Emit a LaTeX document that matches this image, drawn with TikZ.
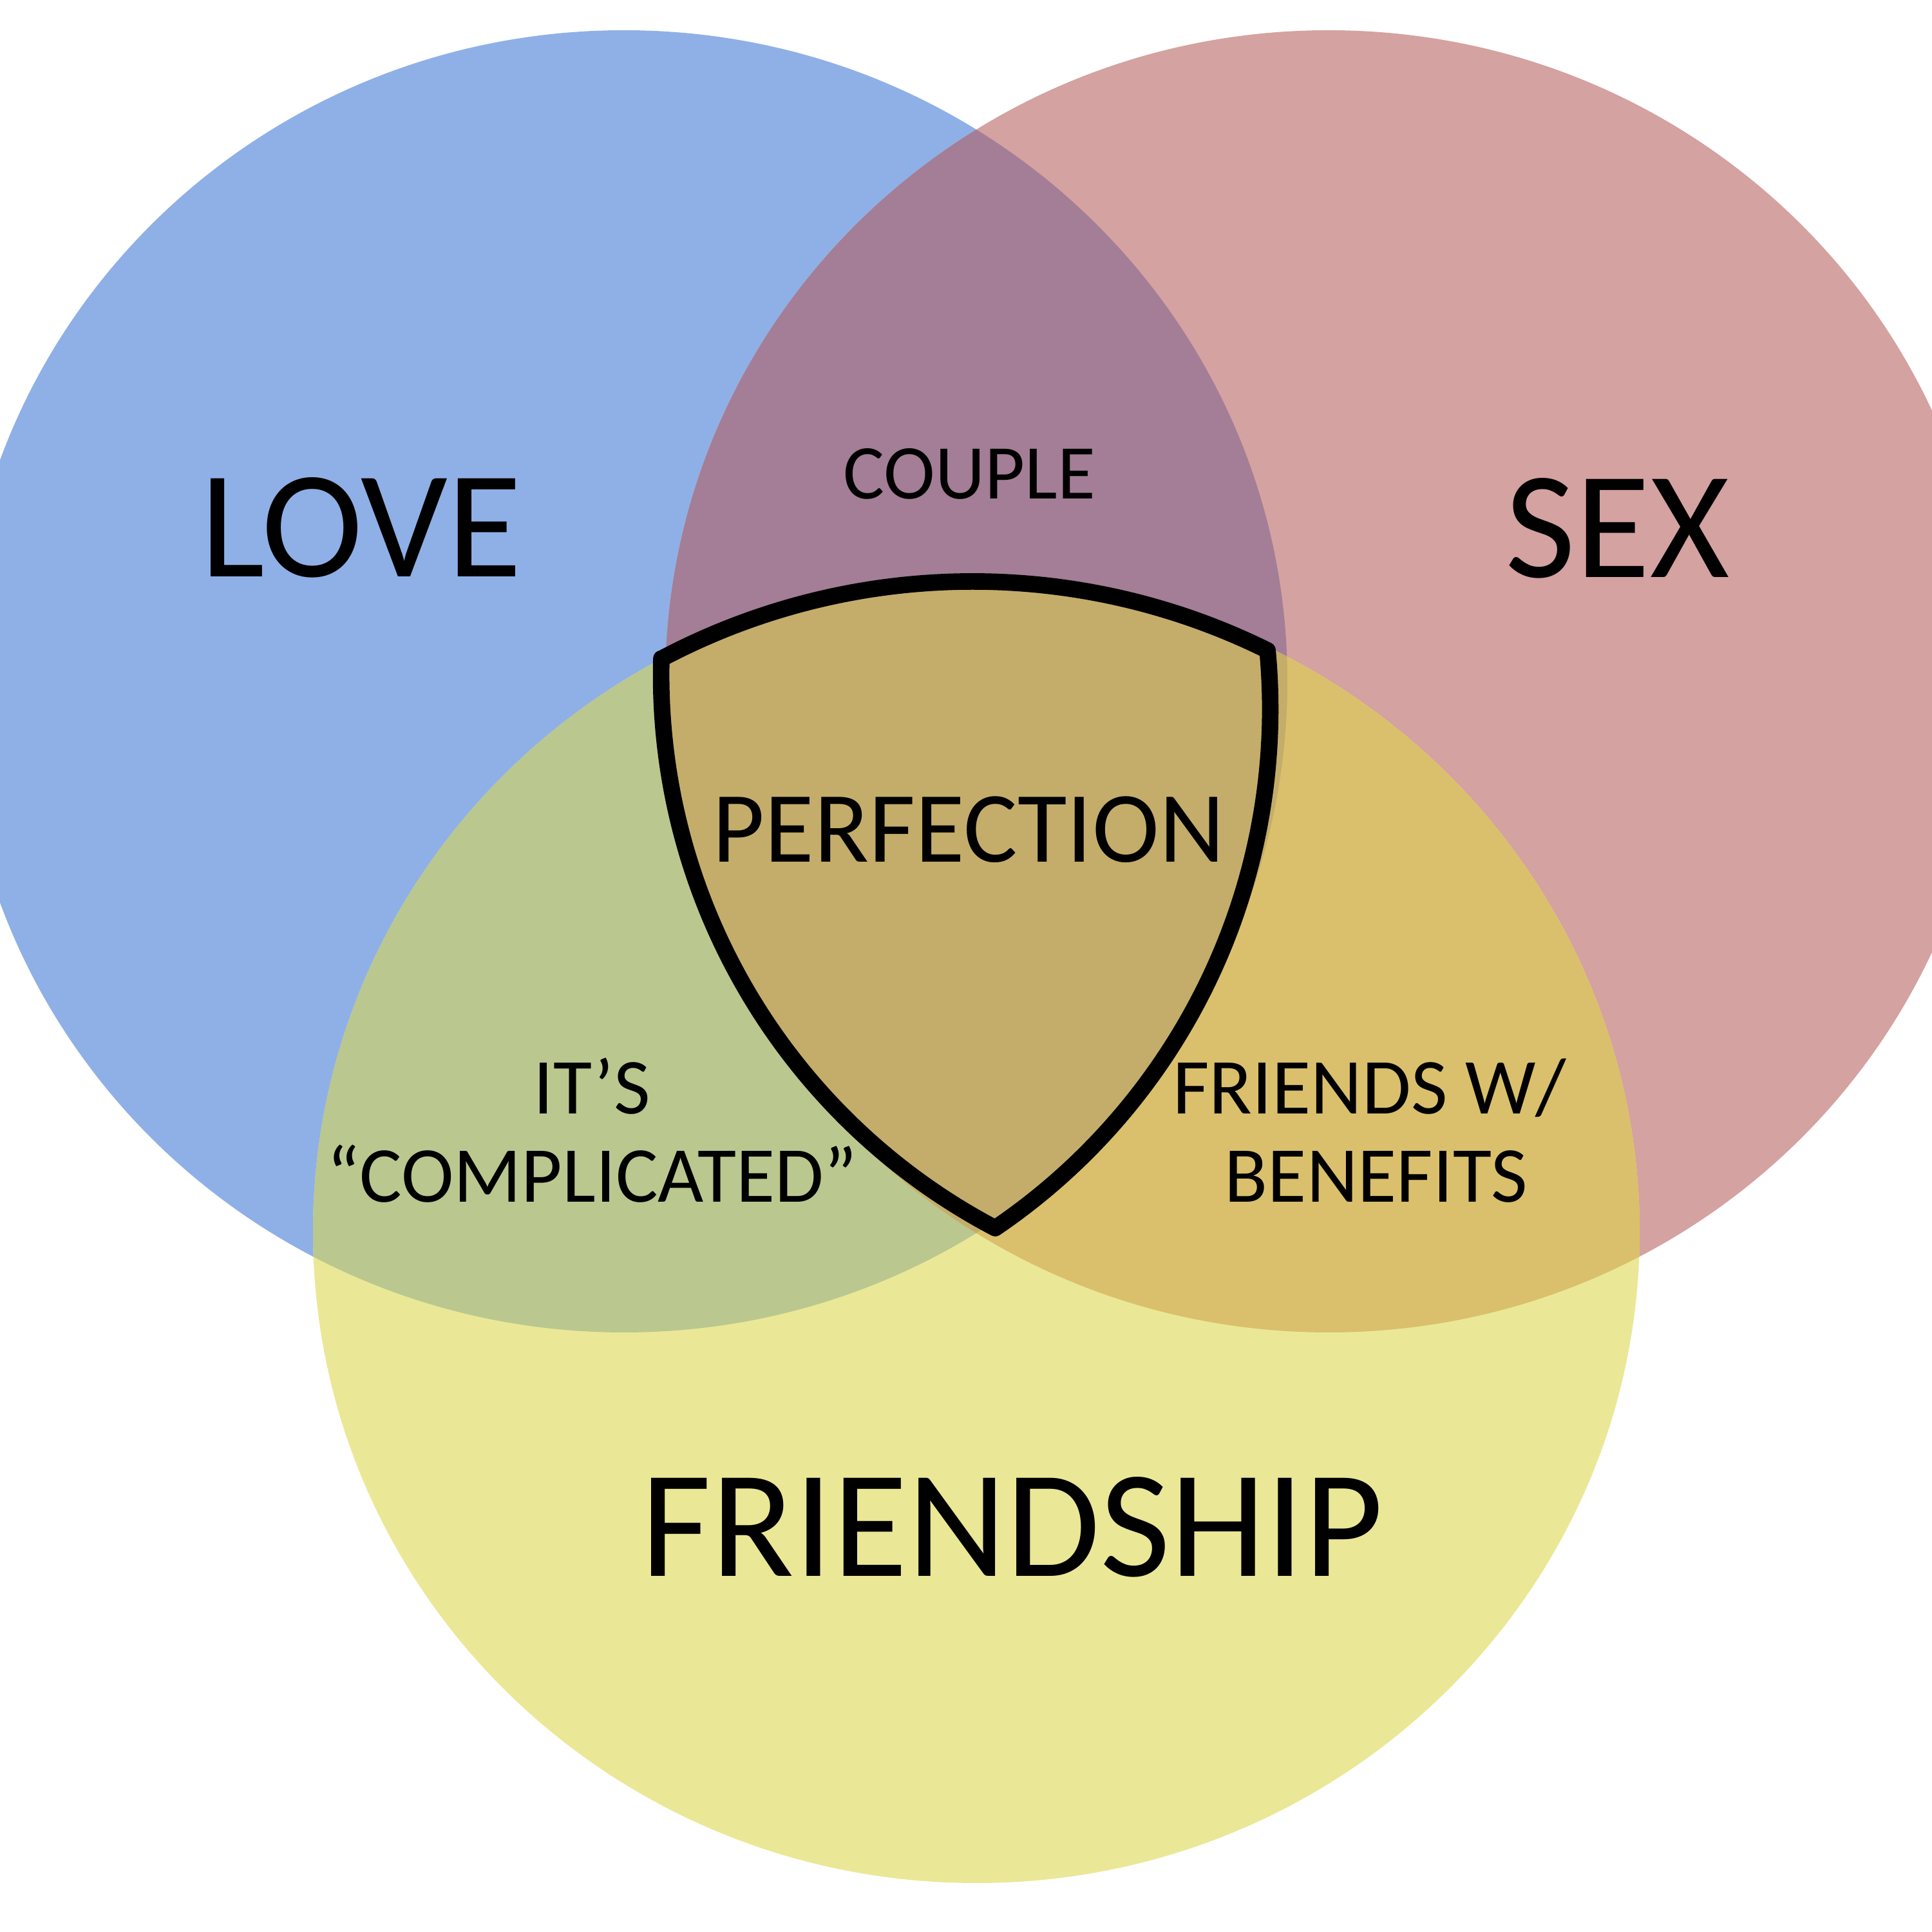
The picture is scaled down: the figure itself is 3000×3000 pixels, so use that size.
\documentclass[tikz,border=0pt]{standalone}
\usepackage{fontspec}
\setmainfont{Carlito}
\definecolor{cblue}{HTML}{8FB0E6}
\definecolor{cpink}{HTML}{D4A2A0}
\definecolor{cyellow}{HTML}{EAE896}
\definecolor{cbp}{HTML}{A37E96}
\definecolor{cby}{HTML}{BAC78F}
\definecolor{cpy}{HTML}{DAC06C}
\definecolor{call}{HTML}{C4AD6A}
\begin{document}
\begin{tikzpicture}[x=0.01cm,y=0.01cm,
  bigtext/.style={font=\fontsize{67.5}{80}\selectfont, inner sep=0pt, anchor=base},
  perftext/.style={font=\fontsize{44.6}{54}\selectfont, inner sep=0pt, anchor=base},
  midtext/.style={font=\fontsize{35}{42}\selectfont, inner sep=0pt, anchor=base},
  coupletext/.style={font=\fontsize{34.2}{41}\selectfont, inner sep=0pt, anchor=base},
  outline/.style={draw=black, line width=7.3pt, line join=round}]
\useasboundingbox (0,0) rectangle (3000,3000);
\clip (0,0) rectangle (3000,3000);
\fill[white] (0,0) rectangle (3000,3000);
% single circles
\fill[cblue] (969,1942) ellipse [x radius=1030, y radius=1011];
\fill[cpink] (2063,1942) ellipse [x radius=1030, y radius=1011];
\fill[cyellow] (1516,1087) ellipse [x radius=1030, y radius=1011];
% overlaps with blue
\begin{scope}
  \clip (969,1942) ellipse [x radius=1030, y radius=1011];
  \fill[cbp] (2063,1942) ellipse [x radius=1030, y radius=1011];
  \fill[cby] (1516,1087) ellipse [x radius=1030, y radius=1011];
\end{scope}
% overlaps with pink
\begin{scope}
  \clip (2063,1942) ellipse [x radius=1030, y radius=1011];
  \fill[cpy] (1516,1087) ellipse [x radius=1030, y radius=1011];
  \clip (969,1942) ellipse [x radius=1030, y radius=1011];
  \fill[call] (1516,1087) ellipse [x radius=1030, y radius=1011];
\end{scope}
% outline of the triple intersection
\coordinate (tl) at (1027,1977);
\draw[outline] (tl)
  arc[start angle=117.91, end angle=63.68, radius=1032.6]
  arc[start angle=5.37, end angle=-55.84, radius=974]
  arc[start angle=242.24, end angle=178.51, radius=971.05]
  -- cycle;
% labels
\node[bigtext] (love) at (561,2104) {LOVE};
\node[bigtext] (sex) at (2512,2103) {SEX};
\node[bigtext] (friendship) at (1572,552) {FRIENDSHIP};
\node[coupletext] (couple) at (1505,2225) {COUPLE};
\node[perftext] (perfection) at (1504,1661) {PERFECTION};
\node[midtext] (its) at (919,1270) {IT’S};
\node[midtext] (complicated) at (919,1133) {“COMPLICATED”};
\node[midtext] (friendsw) at (2127,1270) {FRIENDS W/};
\node[midtext] (benefits) at (2137,1133) {BENEFITS};
\end{tikzpicture}
\end{document}
